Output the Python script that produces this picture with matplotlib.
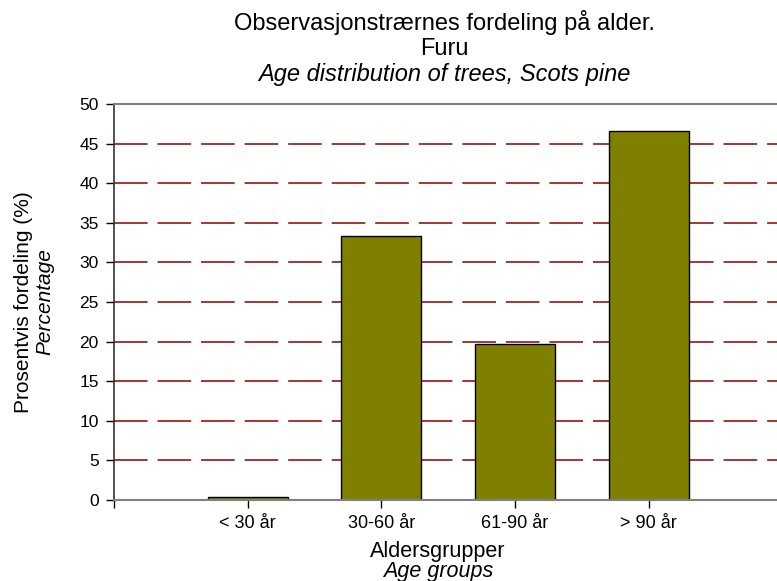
import numpy as np
import matplotlib.pyplot as plt

plt.rcParams['font.family'] = ['Liberation Sans', 'DejaVu Sans']

# data
categories = ['< 30 år', '30-60 år', '61-90 år', '> 90 år']
percent = [0.4, 33.3, 19.7, 46.6]
yticks = [0, 5, 10, 15, 20, 25, 30, 35, 40, 45, 50]

W, H = 777, 581
fig = plt.figure(figsize=(W / 100, H / 100), dpi=100)
ax = fig.add_axes([114 / W, 1 - 500 / H, 1 - 114 / W, 396 / H])

pos = np.arange(1, len(categories) + 1)

# dashed red grid
for y in yticks[1:-1]:
    ax.axhline(y, color='#8b0000', lw=1.1, dashes=(22, 6.5), zorder=1)

ax.bar(pos, percent, width=0.6, color='#808000', edgecolor='black', lw=1, zorder=2)

ax.set_xlim(0, 4.96)
ax.set_ylim(0, 50)
ax.set_yticks(yticks)
ax.set_xticks([0] + list(pos))
ax.set_xticklabels([''] + categories)
ax.tick_params(axis='both', length=6, width=1, color='black')
ax.tick_params(axis='x', labelsize=13, pad=5)
ax.tick_params(axis='y', labelsize=12.5, pad=5)

ax.spines['right'].set_visible(False)
ax.spines['top'].set_color('#808080')
ax.spines['top'].set_linewidth(1.5)
ax.spines['bottom'].set_color('#808080')
ax.spines['bottom'].set_linewidth(1.5)
ax.spines['left'].set_color('#333333')
ax.spines['left'].set_linewidth(1.2)
for s in ax.spines.values():
    s.set_zorder(3)

# titles
tx = 444 / W
fig.text(tx, 1 - 30 / H, 'Observasjonstrærnes fordeling på alder.', ha='center', va='baseline', fontsize=17)
fig.text(tx, 1 - 55 / H, 'Furu', ha='center', va='baseline', fontsize=17)
fig.text(tx, 1 - 81 / H, 'Age distribution of trees, Scots pine', ha='center', va='baseline', fontsize=17, style='italic')

# axis labels
lx = 438 / W
fig.text(lx, 1 - 557 / H, 'Aldersgrupper', ha='center', va='baseline', fontsize=15.5)
fig.text(lx, 1 - 577 / H, 'Age groups', ha='center', va='baseline', fontsize=15.5, style='italic')
fig.text(29 / W, 1 - 302 / H, 'Prosentvis fordeling (%)', ha='center', va='baseline', fontsize=15,
         rotation=90, rotation_mode='anchor')
fig.text(50 / W, 1 - 302 / H, 'Percentage', ha='center', va='baseline', fontsize=15,
         rotation=90, rotation_mode='anchor', style='italic')

fig.savefig('out.png', dpi=100)
